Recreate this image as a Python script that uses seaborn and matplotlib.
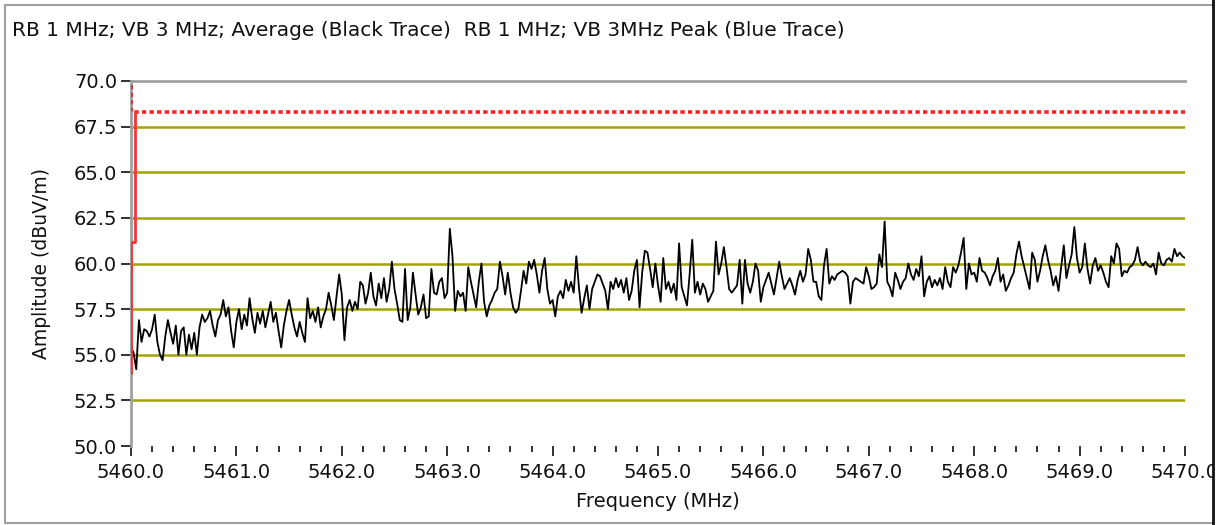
import numpy as np
import pandas as pd
import matplotlib
matplotlib.use("Agg")
import matplotlib.pyplot as plt
from matplotlib.patches import Rectangle
from matplotlib.lines import Line2D
from matplotlib.ticker import MultipleLocator, FormatStrFormatter
import seaborn as sns

# Frequency sweep 5460.0 - 5470.0 MHz, 0.025 MHz step
f_start = 5460.0
f_step = 0.025

# Average detector readings (dBuV/m), one row per 0.5 MHz
avg_amp = [
    55.4, 55.1, 54.2, 56.9, 55.7, 56.4, 56.3, 56.0, 56.4, 57.2, 55.7, 55.0, 54.7, 56.0, 56.9, 56.2, 55.6, 56.6, 55.0, 56.3,
    56.5, 55.0, 56.1, 55.3, 56.2, 55.0, 56.5, 57.2, 56.8, 57.0, 57.4, 56.6, 56.0, 56.9, 57.2, 58.0, 57.1, 57.6, 56.3, 55.4,
    56.8, 57.5, 56.4, 57.2, 56.6, 58.1, 57.0, 56.2, 57.3, 56.7, 57.4, 56.5, 57.2, 57.9, 56.8, 57.3, 56.3, 55.4, 56.6, 57.4,
    58.0, 57.2, 56.5, 56.0, 56.8, 56.2, 55.7, 58.1, 57.0, 57.4, 56.8, 57.6, 56.5, 57.1, 57.5, 58.4, 57.7, 56.9, 58.2, 59.4,
    58.3, 55.8, 57.6, 58.0, 57.4, 57.9, 57.5, 59.0, 58.8, 57.8, 58.4, 59.5, 58.2, 57.7, 58.9, 58.1, 59.2, 57.9, 58.6, 60.1,
    58.6, 57.8, 56.9, 56.8, 59.7, 56.9, 57.6, 59.5, 58.3, 57.2, 57.6, 58.3, 57.0, 57.1, 59.7, 58.4, 58.3, 59.0, 59.2, 58.1,
    58.4, 61.9, 60.4, 57.4, 58.5, 58.2, 58.4, 57.4, 59.8, 59.0, 58.3, 57.6, 59.0, 60.0, 57.9, 57.1, 57.7, 58.0, 58.4, 58.6,
    60.1, 59.3, 58.3, 59.5, 58.4, 57.6, 57.3, 57.5, 58.5, 59.6, 58.9, 60.1, 59.7, 60.2, 59.4, 58.4, 59.6, 60.3, 58.6, 57.8,
    58.0, 57.1, 58.2, 58.5, 58.1, 59.1, 58.5, 59.0, 58.4, 60.4, 58.7, 57.3, 58.1, 58.8, 57.5, 58.6, 59.0, 59.4, 59.3, 58.9,
    58.5, 57.5, 59.0, 58.6, 59.2, 58.7, 59.1, 58.4, 59.2, 58.0, 58.5, 59.6, 60.2, 57.6, 59.5, 60.7, 60.6, 59.7, 58.7, 60.0,
    58.8, 57.9, 60.3, 58.6, 59.0, 58.4, 58.9, 58.0, 61.1, 58.7, 58.2, 57.7, 59.4, 61.3, 58.4, 59.0, 58.3, 58.9, 58.6, 57.9,
    58.2, 58.5, 61.2, 59.4, 60.0, 60.9, 59.8, 58.6, 58.4, 58.6, 58.8, 60.2, 57.8, 60.2, 58.9, 58.4, 59.0, 60.0, 59.6, 57.9,
    58.7, 59.1, 59.5, 58.9, 58.3, 59.2, 60.1, 59.3, 58.6, 58.9, 59.2, 58.8, 58.3, 59.1, 59.6, 59.0, 59.4, 60.8, 60.2, 59.0,
    59.0, 58.2, 58.0, 59.9, 60.8, 58.9, 59.3, 59.1, 59.4, 59.5, 59.6, 59.5, 59.3, 57.8, 59.0, 59.2, 59.1, 59.0, 58.9, 59.8,
    59.3, 58.6, 58.7, 58.9, 60.5, 59.8, 62.3, 59.0, 58.7, 58.2, 59.5, 59.1, 58.6, 59.0, 59.2, 60.0, 59.4, 59.1, 59.7, 59.3,
    60.4, 58.2, 59.0, 59.3, 58.7, 59.1, 58.8, 59.2, 58.6, 59.8, 59.0, 58.7, 59.8, 59.5, 59.9, 60.6, 61.4, 58.6, 60.0, 59.4,
    59.5, 59.0, 60.3, 59.6, 59.5, 59.2, 58.8, 59.3, 59.6, 60.3, 59.0, 59.4, 58.5, 58.8, 59.2, 59.5, 60.5, 61.2, 60.4, 59.8,
    59.2, 58.6, 60.6, 60.2, 59.0, 59.6, 60.4, 61.0, 60.2, 59.6, 58.8, 59.3, 58.5, 59.8, 61.0, 59.2, 59.9, 60.5, 62.0, 60.3,
    59.5, 59.8, 61.1, 59.7, 58.9, 59.9, 60.3, 59.6, 59.9, 59.5, 59.0, 58.7, 60.4, 60.0, 61.1, 60.8, 59.3, 59.6, 59.5, 59.8,
    59.9, 60.2, 60.9, 60.1, 59.9, 60.1, 59.9, 59.8, 60.0, 59.4, 60.6, 60.0, 59.9, 60.2, 60.3, 60.1, 60.8, 60.4, 60.6, 60.4,
    60.3,
]
avg_freq = [round(f_start + i * f_step, 3) for i in range(len(avg_amp))]

# Peak detector trace at the band edge
peak_freq = [5460.0, 5460.0, 5460.04, 5460.04]
peak_amp = [54.0, 61.2, 61.2, 68.3]

# Limit line
limit_freq = [5460.0, 5460.0, 5470.0]
limit_amp = [69.8, 68.3, 68.3]

y_ticks = [50.0, 52.5, 55.0, 57.5, 60.0, 62.5, 65.0, 67.5, 70.0]
x_ticks = [5460.0 + k for k in range(11)]

title = "RB 1 MHz; VB 3 MHz; Average (Black Trace)  RB 1 MHz; VB 3MHz Peak (Blue Trace)"

sns.set_theme(style="white")
plt.rcParams["font.family"] = ["DejaVu Sans"]

W, H = 1225, 525
fig = plt.figure(figsize=(W / 100, H / 100), dpi=100)
ax = fig.add_axes([131 / W, 1 - 446 / H, (1185 - 131) / W, (446 - 81) / H])

grid_color = "#a3a300"
for yv in y_ticks[1:-1]:
    ax.axhline(yv, color=grid_color, lw=1.8, zorder=1)

df_avg = pd.DataFrame({"freq": avg_freq, "amp": avg_amp})
sns.lineplot(data=df_avg, x="freq", y="amp", ax=ax, color="black", lw=1.3,
             estimator=None, sort=False, zorder=3)

df_lim = pd.DataFrame({"freq": limit_freq, "amp": limit_amp})
sns.lineplot(data=df_lim, x="freq", y="amp", ax=ax, color="#ff2020", lw=2.6,
             estimator=None, sort=False, zorder=4, dashes=False)
ax.lines[-1].set_linestyle((0, (1.2, 0.9)))

df_peak = pd.DataFrame({"freq": peak_freq, "amp": peak_amp})
sns.lineplot(data=df_peak, x="freq", y="amp", ax=ax, color="#ff3030", lw=2.0,
             estimator=None, sort=False, zorder=4)

ax.set_xlim(5460.0, 5470.0)
ax.set_ylim(50.0, 70.0)

ax.set_yticks(y_ticks)
ax.yaxis.set_major_formatter(FormatStrFormatter("%.1f"))
ax.set_xticks(x_ticks)
ax.xaxis.set_major_formatter(FormatStrFormatter("%.1f"))
ax.xaxis.set_minor_locator(MultipleLocator(0.2))

tick_font = 14
ax.tick_params(axis="y", which="major", direction="out", length=7, width=1.3,
               color="#222222", labelsize=tick_font, pad=3, left=True,
               labelcolor="#111111")
ax.tick_params(axis="x", which="major", direction="out", length=7, width=1.3,
               color="#222222", labelsize=tick_font, pad=5, bottom=True,
               labelcolor="#111111")
ax.tick_params(axis="x", which="minor", direction="out", length=4, width=1.3,
               color="#222222", bottom=True)

for side in ["right", "bottom"]:
    ax.spines[side].set_visible(False)
for side in ["top", "left"]:
    ax.spines[side].set_visible(True)
    ax.spines[side].set_color("#a0a0a0")
    ax.spines[side].set_linewidth(2)

ax.set_xlabel("Frequency (MHz)", fontsize=14, color="#111111")
ax.set_ylabel("Amplitude (dBuV/m)", fontsize=13.5, color="#111111")
ax.xaxis.set_label_coords(0.5, -0.125)
ax.yaxis.set_label_coords(-0.076, 0.5)

fig.text(12 / W, 1 - 31 / H, title, fontsize=14.5, ha="left", va="center",
         color="#111111")

# Outer panel frame
fig.patches.append(Rectangle((1214 / W, 0), 11 / W, 1, transform=fig.transFigure,
                             facecolor="white", edgecolor="none", zorder=10))
fig.lines.append(Line2D([5 / W, 5 / W], [2 / H, 1 - 5 / H], transform=fig.transFigure,
                        color="#a0a0a0", lw=1.5, zorder=11))
fig.lines.append(Line2D([5 / W, 1213 / W], [1 - 5 / H, 1 - 5 / H], transform=fig.transFigure,
                        color="#a0a0a0", lw=1.5, zorder=11))
fig.lines.append(Line2D([5 / W, 1213 / W], [2 / H, 2 / H], transform=fig.transFigure,
                        color="#a0a0a0", lw=1.5, zorder=11))
fig.lines.append(Line2D([1213 / W, 1213 / W], [0, 1], transform=fig.transFigure,
                        color="#111111", lw=2, zorder=11))

fig.savefig("out.png", dpi=100, facecolor="white")
